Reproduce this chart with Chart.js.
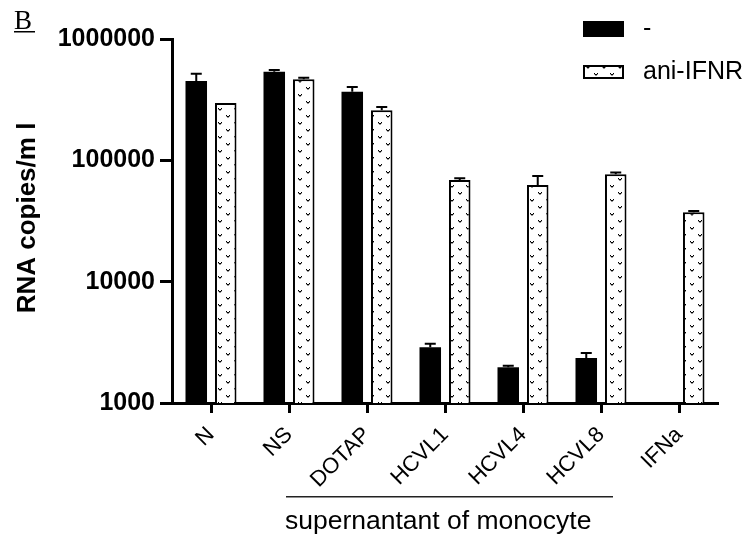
<!DOCTYPE html>
<html>
<head>
<meta charset="utf-8">
<script src="https://cdn.jsdelivr.net/npm/chart.js@4.4.1/dist/chart.umd.min.js"></script>
<style>
  html, body { margin: 0; padding: 0; background: #fff; }
  #wrap { width: 746px; height: 542px; position: relative; }
</style>
</head>
<body>
<div id="wrap"><canvas id="c"></canvas></div>
<script>
// Groups on the x axis
const categories = ['N', 'NS', 'DOTAP', 'HCVL1', 'HCVL4', 'HCVL8', 'IFNa'];
const seriesNames = ['-', 'ani-IFNR'];
// RNA copies/ml, mean and upper error (SEM)
const untreated = [451000, 538000, 368000, 2880, 1970, 2350, null];
const untreatedErr = [67000, 18000, 35000, 200, 60, 230, null];
const antiIFNR = [297000, 466000, 259000, 68900, 62700, 76800, 37300];
const antiIFNRErr = [0, 14000, 16000, 2300, 11700, 2400, 1000];
const yTicks = [1000, 10000, 100000, 1000000];

const FONT = '"Liberation Sans", Arial, sans-serif';
const canvas = document.getElementById('c');
const mainCtx = canvas.getContext('2d');

// Dotted "v" fill used for the anti-IFNR bars
function makeVPattern(ctx) {
  const t = document.createElement('canvas');
  t.width = 16; t.height = 14;
  const g = t.getContext('2d');
  g.fillStyle = '#fff';
  g.fillRect(0, 0, 16, 14);
  const v = (x, y) => {
    g.fillStyle = '#000';
    g.fillRect(x, y, 1, 1); g.fillRect(x + 3, y, 1, 1);
    g.fillRect(x + 1, y + 1, 2, 1);
    g.fillStyle = '#9a9a9a';
    g.fillRect(x, y + 1, 1, 1); g.fillRect(x + 3, y + 1, 1, 1);
    g.fillRect(x + 1, y + 2, 2, 1);
  };
  v(2, 3); v(10, 10);
  return ctx.createPattern(t, 'repeat');
}
const vPattern = makeVPattern(mainCtx);

const errorBars = {
  id: 'errorBars',
  afterDatasetsDraw(chart) {
    const ctx = chart.ctx, y = chart.scales.y;
    chart.data.datasets.forEach((ds, di) => {
      chart.getDatasetMeta(di).data.forEach((bar, i) => {
        const v = ds.data[i], e = ds.errors[i];
        if (v == null || !e) return;
        const top = y.getPixelForValue(v), cap = y.getPixelForValue(v + e);
        ctx.save();
        ctx.strokeStyle = '#000';
        ctx.lineWidth = 2;
        ctx.beginPath();
        ctx.moveTo(bar.x, top); ctx.lineTo(bar.x, cap);
        ctx.moveTo(bar.x - 5.5, cap); ctx.lineTo(bar.x + 5.5, cap);
        ctx.stroke();
        ctx.restore();
      });
    });
  }
};

const decorations = {
  id: 'decorations',
  afterDraw(chart) {
    const ctx = chart.ctx, x = chart.scales.x;
    ctx.save();
    // panel letter
    ctx.fillStyle = '#000';
    ctx.font = '27px "Liberation Serif", "Times New Roman", serif';
    ctx.textBaseline = 'alphabetic';
    ctx.textAlign = 'left';
    ctx.fillText('B', 14, 29);
    ctx.fillRect(14, 31, 21, 1.5);

    // y axis title
    ctx.save();
    ctx.translate(28, 218);
    ctx.rotate(-Math.PI / 2);
    ctx.font = 'bold 26px ' + FONT;
    ctx.textAlign = 'center';
    ctx.textBaseline = 'middle';
    ctx.fillText('RNA copies/m l', 0, 0);
    ctx.restore();

    // bracket under the monocyte-supernatant groups
    const x0 = x.getPixelForValue(1) - 3;
    const x1 = x.getPixelForValue(5) + 12;
    ctx.fillStyle = '#222';
    ctx.fillRect(x0, 496, x1 - x0, 1.5);
    ctx.fillStyle = '#000';
    ctx.font = '26.5px ' + FONT;
    ctx.textAlign = 'left';
    ctx.textBaseline = 'alphabetic';
    ctx.fillText('supernantant of monocyte', x0 - 1, 529);

    // legend
    const items = chart.data.datasets;
    const rows = [21, 65];
    items.forEach((ds, i) => {
      const top = rows[i];
      const h = i === 0 ? 16 : 14;
      ctx.fillStyle = ds.backgroundColor;
      ctx.fillRect(583, top, 41, h);
      if (ds.borderWidth) {
        ctx.strokeStyle = '#000';
        ctx.lineWidth = 2;
        ctx.strokeRect(584, top + 1, 39, h - 2);
      }
      ctx.fillStyle = '#000';
      ctx.font = '25px ' + FONT;
      ctx.textAlign = 'left';
      ctx.textBaseline = 'middle';
      ctx.fillText(ds.label, 643, top + h / 2);
    });
    ctx.restore();
  }
};

new Chart(canvas, {
  type: 'bar',
  data: {
    labels: categories,
    datasets: [
      { label: seriesNames[0], data: untreated, errors: untreatedErr,
        backgroundColor: '#000', borderWidth: 0 },
      { label: seriesNames[1], data: antiIFNR, errors: antiIFNRErr,
        backgroundColor: vPattern, borderColor: '#000', borderWidth: 2 }
    ]
  },
  options: {
    responsive: true,
    maintainAspectRatio: false,
    animation: false,
    layout: { padding: { top: 39, right: 28, left: 0, bottom: 0 } },
    datasets: { bar: { categoryPercentage: 0.756, barPercentage: 0.73 } },
    plugins: { legend: { display: false }, tooltip: { enabled: false } },
    scales: {
      x: {
        type: 'category',
        offset: true,
        grid: { drawOnChartArea: false, drawTicks: true, offset: false,
                tickLength: 10, tickWidth: 3, tickColor: '#000' },
        border: { display: true, color: '#000', width: 3 },
        ticks: { color: '#000', font: { family: FONT, size: 22 },
                 minRotation: 45, maxRotation: 45, autoSkip: false, padding: 9 },
        afterFit(s) { s.height = 139; }
      },
      y: {
        type: 'logarithmic',
        min: 1000,
        max: 1000000,
        grid: { drawOnChartArea: false, drawTicks: true,
                tickLength: 12, tickWidth: 3, tickColor: '#000' },
        border: { display: true, color: '#000', width: 3 },
        afterBuildTicks(s) { s.ticks = yTicks.map(v => ({ value: v })); },
        ticks: { color: '#000', font: { family: FONT, size: 25, weight: 'bold' },
                 padding: 5, callback: v => String(v) },
        afterFit(s) { s.width = 172; }
      }
    }
  },
  plugins: [errorBars, decorations]
});
</script>
</body>
</html>
